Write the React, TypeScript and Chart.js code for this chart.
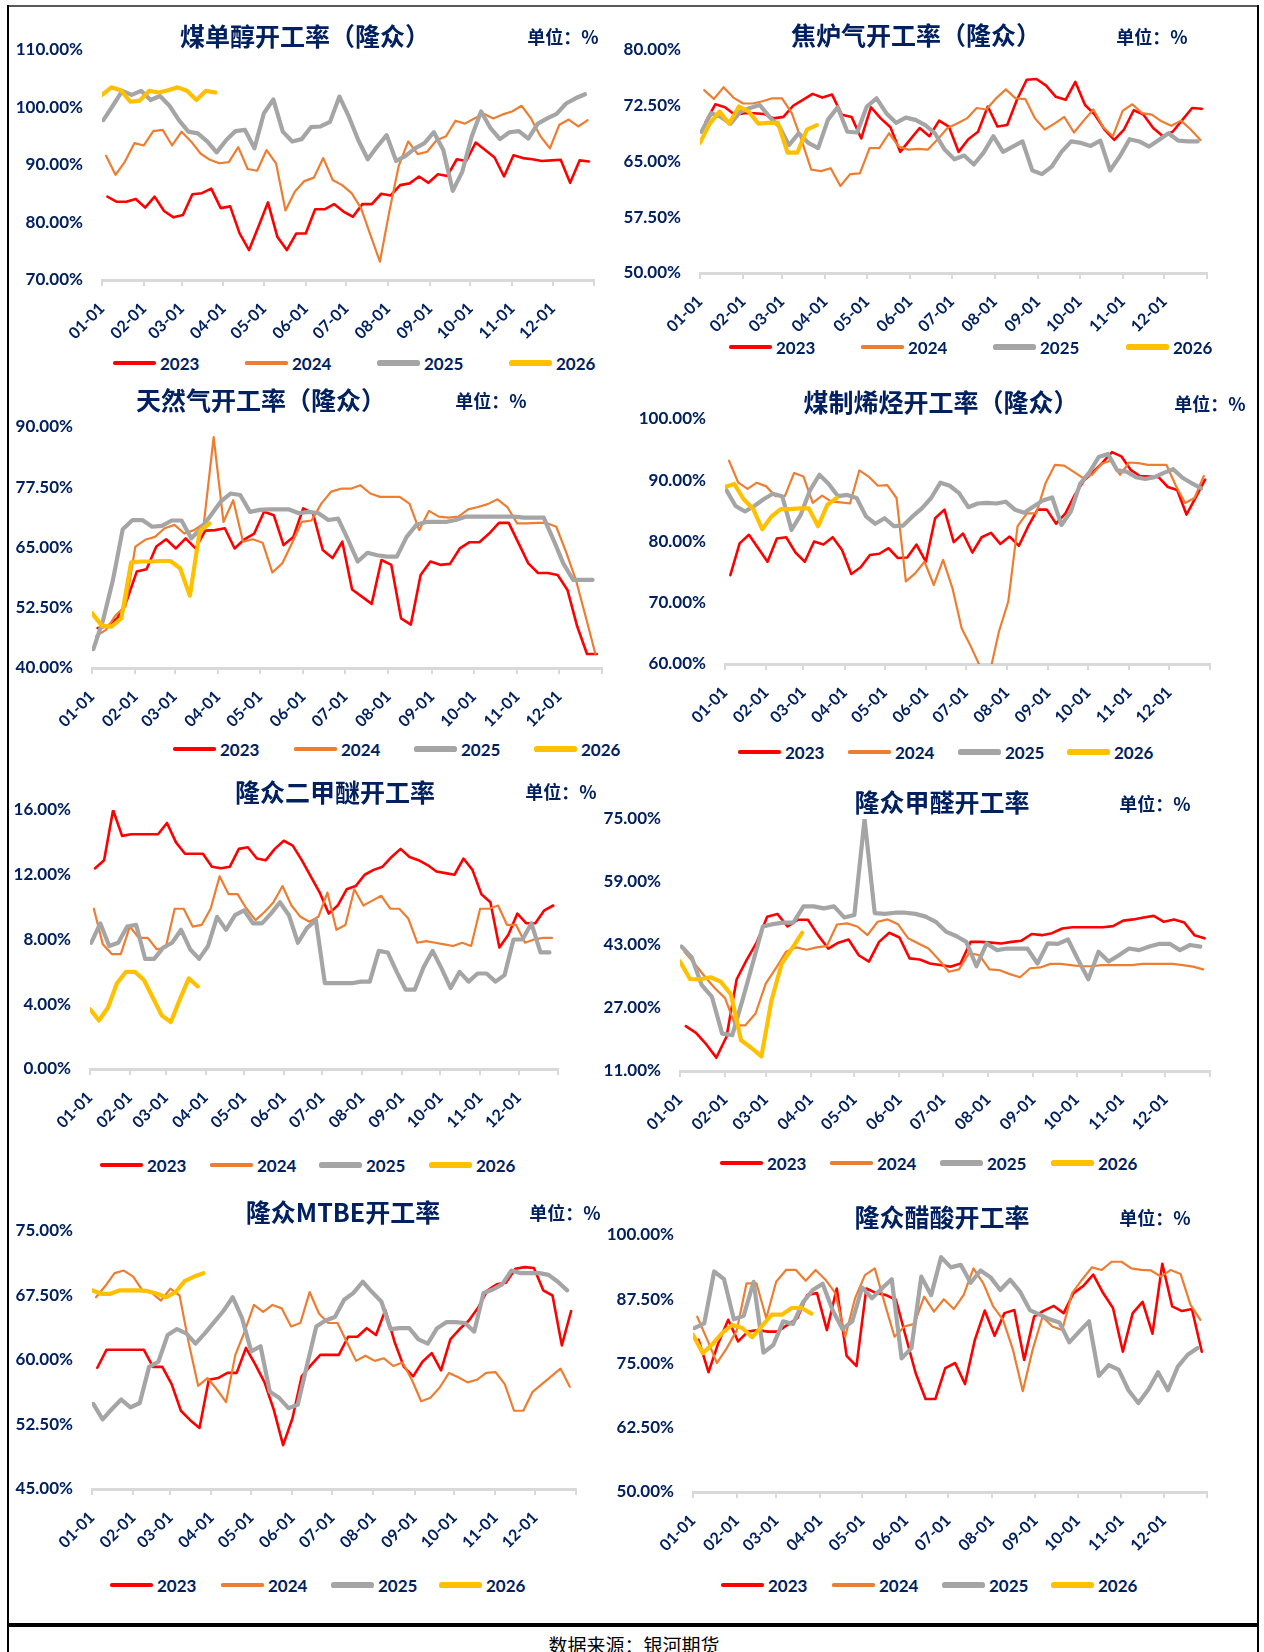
import React, { useEffect, useRef } from 'react';
import { Chart, registerables } from 'chart.js';

Chart.register(...registerables);

const NAVY = '#002060';
const AXIS_GRAY = '#D9D9D9';
const NUM_FONT = 'Lato, "Liberation Sans", sans-serif';
const CJK_FONT = '"Noto Sans CJK SC", "Noto Sans", sans-serif';

const YEARS = ['2023', '2024', '2025', '2026'];
const YEAR_COLORS = ['#FF0000', '#ED7D31', '#A5A5A5', '#FFC000'];
const YEAR_WIDTHS = [2.6, 2.2, 4.2, 4.2];
const YEAR_DAY_OFFSETS = [4, 3, 1, 0];
const WEEK_DAYS = 7;
const MONTH_TICK_DAYS = [0, 31, 59, 90, 120, 151, 181, 212, 243, 273, 304, 334, 365];
const MONTH_TICK_LABELS = ['01-01', '02-01', '03-01', '04-01', '05-01', '06-01', '07-01', '08-01', '09-01', '10-01', '11-01', '12-01', ''];

// 煤单醇开工率（隆众）
const methanol2023 = [84.5, 83.6, 83.6, 84.1, 82.6, 84.5, 82.0, 80.9, 81.3, 84.9, 85.1, 85.9, 82.5, 82.8, 78.1, 75.2, 79.3, 83.5, 77.5, 75.2, 78.1, 78.1, 82.3, 82.3, 83.2, 81.9, 81.0, 83.2, 83.2, 85.0, 84.7, 86.5, 86.8, 88.0, 86.9, 88.4, 88.1, 91.0, 90.7, 93.9, 92.6, 91.3, 88.0, 91.7, 91.2, 91.0, 90.7, 90.8, 90.9, 86.9, 90.8, 90.6];
const methanol2024 = [91.6, 88.3, 90.6, 93.8, 93.4, 95.9, 96.1, 93.4, 95.8, 94.1, 92.0, 90.9, 90.3, 90.5, 93.1, 89.3, 89.0, 92.6, 90.3, 82.1, 85.4, 87.2, 87.8, 91.2, 87.4, 86.5, 85.1, 82.5, 77.8, 73.2, 81.9, 89.9, 94.1, 91.9, 92.3, 94.3, 95.0, 97.7, 97.2, 98.1, 98.9, 98.1, 98.8, 99.3, 100.3, 98.1, 95.0, 92.9, 97.0, 97.9, 96.7, 97.8];
const methanol2025 = [97.8, 100.3, 102.9, 102.2, 102.9, 101.3, 102.0, 100.3, 97.8, 95.8, 95.5, 94.1, 92.2, 94.3, 95.9, 96.1, 92.9, 99.0, 101.4, 95.8, 94.1, 94.5, 96.6, 96.7, 97.5, 101.9, 98.4, 94.3, 91.0, 93.2, 95.2, 90.7, 91.6, 92.9, 93.8, 95.7, 92.6, 85.5, 88.8, 94.9, 99.3, 96.4, 94.5, 95.7, 95.9, 94.6, 97.2, 98.1, 98.9, 100.7, 101.6, 102.3];
const methanol2026 = [102.2, 103.5, 103.0, 101.0, 101.2, 102.9, 102.6, 103.0, 103.5, 102.9, 101.3, 102.9, 102.6];

// 焦炉气开工率（隆众）
const cokeGas2023 = [70.3, 72.7, 72.3, 71.3, 71.5, 71.5, 71.4, 70.8, 71.0, 72.5, 73.3, 74.1, 73.6, 74.0, 71.3, 71.0, 68.1, 72.3, 70.8, 69.6, 66.3, 67.9, 69.5, 68.4, 70.5, 69.7, 66.3, 68.0, 69.0, 72.4, 69.7, 69.9, 73.3, 76.0, 76.1, 75.2, 73.7, 73.3, 75.7, 72.6, 71.3, 69.3, 67.9, 69.3, 71.9, 71.3, 69.5, 68.4, 69.0, 70.6, 72.2, 72.1];
const cokeGas2024 = [74.6, 73.4, 75.0, 73.6, 72.8, 72.8, 73.1, 73.5, 73.5, 71.5, 67.9, 63.9, 63.7, 64.1, 61.7, 63.3, 63.4, 66.8, 66.8, 68.8, 67.0, 66.6, 66.7, 66.6, 68.0, 69.5, 70.1, 70.8, 72.2, 72.0, 73.5, 74.7, 73.5, 73.4, 70.8, 69.3, 70.1, 71.0, 68.9, 70.5, 72.0, 69.6, 68.4, 71.8, 72.7, 71.5, 71.3, 70.4, 69.8, 70.5, 69.3, 67.9];
const cokeGas2025 = [69.0, 71.5, 71.0, 70.1, 71.7, 72.2, 72.6, 71.0, 69.7, 67.2, 68.8, 67.5, 66.8, 70.6, 72.3, 69.0, 68.9, 72.4, 73.5, 71.5, 70.2, 70.9, 70.6, 69.9, 68.8, 66.6, 65.3, 65.8, 64.6, 66.2, 68.4, 66.3, 67.0, 67.7, 63.8, 63.3, 64.3, 66.3, 67.7, 67.5, 67.1, 67.8, 63.8, 65.7, 68.0, 67.7, 67.0, 67.9, 68.8, 67.8, 67.7, 67.7];
const cokeGas2026 = [67.5, 70.1, 71.7, 70.1, 72.4, 71.7, 70.1, 70.2, 70.2, 66.2, 66.2, 69.3, 69.9];

// 天然气开工率（隆众）
const natGas2023 = [48.3, 48.6, 50.3, 54.1, 60.0, 60.5, 65.2, 66.7, 64.8, 66.9, 64.8, 68.5, 68.6, 69.0, 64.8, 66.7, 67.9, 72.4, 71.7, 65.5, 67.2, 73.1, 72.1, 64.5, 62.8, 66.2, 56.3, 54.8, 53.3, 62.4, 61.4, 50.3, 49.0, 59.3, 62.1, 61.4, 61.6, 64.8, 66.1, 66.1, 67.9, 70.1, 70.1, 65.9, 61.7, 59.7, 59.7, 59.3, 56.2, 48.6, 42.9, 42.9];
const natGas2024 = [46.6, 47.9, 51.0, 52.8, 65.2, 66.6, 67.2, 69.0, 69.7, 67.9, 68.6, 70.0, 87.9, 70.3, 74.8, 66.2, 66.7, 66.0, 59.8, 61.7, 65.9, 70.3, 70.6, 74.1, 76.6, 77.2, 77.2, 77.9, 76.2, 75.5, 75.5, 75.5, 74.1, 68.6, 72.6, 71.4, 71.2, 71.4, 72.9, 73.4, 74.0, 75.0, 73.4, 70.0, 70.0, 70.1, 70.1, 69.3, 64.1, 58.3, 50.7, 42.9];
const natGas2025 = [43.9, 50.0, 58.3, 68.8, 70.7, 70.7, 69.3, 69.5, 70.6, 70.6, 66.9, 69.0, 71.7, 74.5, 76.2, 75.9, 72.4, 72.8, 72.9, 72.9, 72.9, 72.1, 72.4, 72.1, 70.7, 71.0, 66.7, 62.1, 63.9, 63.4, 63.1, 63.1, 67.2, 69.7, 70.3, 70.3, 70.3, 70.7, 71.4, 71.4, 71.4, 71.4, 71.4, 71.4, 71.2, 71.2, 71.2, 66.6, 61.7, 58.3, 58.3, 58.3];
const natGas2026 = [51.4, 48.8, 48.6, 50.3, 61.9, 62.1, 62.1, 62.2, 62.2, 60.7, 55.0, 68.3, 70.0];

// 煤制烯烃开工率（隆众）
const olefin2023 = [74.5, 79.7, 81.1, 78.9, 76.7, 80.5, 80.7, 78.2, 76.7, 80.0, 79.5, 80.7, 78.6, 74.7, 75.8, 77.8, 78.0, 78.9, 77.3, 77.4, 79.5, 76.7, 83.8, 85.2, 79.9, 81.3, 78.2, 80.7, 81.4, 79.6, 80.8, 79.3, 82.5, 85.2, 85.2, 82.9, 84.6, 87.6, 90.0, 91.4, 92.9, 94.6, 93.9, 91.7, 90.7, 90.6, 90.5, 88.9, 88.4, 84.4, 87.2, 90.1];
const olefin2024 = [93.2, 89.6, 88.6, 89.6, 89.0, 87.4, 87.4, 91.2, 90.6, 86.3, 87.5, 86.5, 86.4, 86.2, 91.6, 90.6, 89.1, 89.2, 87.1, 73.5, 74.8, 76.7, 72.9, 77.0, 72.4, 65.8, 62.8, 59.5, 58.5, 65.3, 70.2, 82.5, 84.6, 84.6, 89.5, 92.5, 92.4, 91.4, 90.4, 90.9, 92.7, 93.2, 90.9, 92.9, 92.8, 92.5, 92.5, 92.5, 89.1, 86.3, 87.1, 90.7];
const olefin2025 = [88.4, 85.8, 84.9, 85.8, 86.9, 87.8, 87.4, 81.9, 84.4, 88.4, 90.9, 89.4, 87.4, 87.6, 87.1, 84.1, 82.9, 83.8, 82.5, 82.6, 84.1, 85.4, 87.1, 89.6, 89.1, 87.9, 85.6, 86.2, 86.3, 86.2, 86.5, 85.2, 84.7, 85.7, 86.7, 87.2, 82.7, 84.9, 89.4, 91.3, 93.8, 94.3, 91.6, 91.4, 90.5, 90.2, 90.5, 91.2, 91.8, 90.4, 89.5, 88.7];
const olefin2026 = [88.9, 89.4, 86.9, 85.4, 82.0, 84.1, 85.3, 85.3, 85.4, 85.4, 82.5, 86.0, 87.1];

// 隆众二甲醚开工率
const dme2023 = [12.4, 12.9, 16.0, 14.4, 14.5, 14.5, 14.5, 14.5, 15.2, 14.0, 13.3, 13.3, 13.3, 12.5, 12.4, 12.5, 13.6, 13.7, 13.0, 12.9, 13.6, 14.1, 13.8, 12.9, 11.9, 10.9, 9.6, 10.1, 11.1, 11.3, 12.0, 12.3, 12.5, 13.1, 13.6, 13.1, 12.9, 12.6, 12.2, 12.1, 12.0, 13.0, 12.3, 10.8, 10.3, 7.5, 8.3, 9.6, 9.0, 9.0, 9.8, 10.1];
const dme2024 = [9.9, 7.7, 7.1, 7.1, 8.8, 8.1, 8.1, 7.4, 7.5, 9.9, 9.9, 8.8, 8.9, 9.9, 11.9, 10.8, 10.8, 9.9, 9.2, 9.7, 10.3, 11.3, 10.1, 9.4, 9.1, 9.4, 10.9, 8.6, 8.9, 11.1, 10.1, 10.4, 10.7, 9.9, 9.9, 9.3, 7.8, 7.9, 7.8, 7.7, 7.6, 7.8, 7.6, 9.9, 9.9, 10.1, 8.9, 8.9, 7.8, 8.0, 8.1, 8.1];
const dme2025 = [7.8, 9.0, 7.6, 7.8, 8.8, 8.9, 6.8, 6.8, 7.5, 7.8, 8.6, 7.4, 6.8, 7.6, 9.4, 8.6, 9.5, 9.8, 9.0, 9.0, 9.6, 10.3, 9.5, 7.8, 8.7, 9.2, 5.3, 5.3, 5.3, 5.3, 5.4, 5.4, 7.3, 7.2, 6.0, 4.9, 4.9, 6.3, 7.3, 6.2, 5.0, 6.0, 5.4, 5.9, 5.9, 5.4, 5.8, 8.0, 8.0, 9.0, 7.2, 7.2];
const dme2026 = [3.7, 3.0, 3.8, 5.3, 6.0, 6.0, 5.5, 4.4, 3.3, 2.9, 4.3, 5.6, 5.1];

// 隆众甲醛开工率
const formal2023 = [22.4, 20.7, 17.8, 14.4, 19.7, 34.3, 39.3, 43.8, 50.2, 50.9, 47.7, 49.4, 49.4, 45.5, 42.1, 43.6, 44.4, 40.4, 38.8, 43.8, 46.1, 44.9, 39.6, 39.3, 38.3, 37.9, 37.5, 38.3, 43.8, 43.8, 43.6, 43.4, 43.8, 44.1, 45.8, 45.5, 46.0, 47.2, 47.5, 47.5, 47.5, 47.5, 47.8, 49.2, 49.5, 50.0, 50.4, 48.9, 49.5, 48.7, 45.5, 44.7];
const formal2024 = [41.3, 38.3, 35.0, 32.0, 29.5, 22.6, 22.6, 25.6, 33.2, 37.1, 41.3, 42.4, 41.8, 42.4, 42.7, 48.2, 48.5, 47.7, 45.5, 48.9, 49.5, 48.3, 44.7, 43.4, 42.1, 39.3, 36.2, 36.8, 41.0, 40.4, 36.8, 36.6, 35.6, 34.8, 37.1, 37.3, 38.2, 38.2, 37.9, 37.6, 37.6, 37.9, 37.9, 37.9, 37.9, 38.2, 38.2, 38.2, 38.2, 37.9, 37.5, 36.8];
const formal2025 = [42.6, 39.9, 32.8, 29.8, 20.5, 20.1, 29.0, 38.3, 47.7, 48.3, 48.7, 48.7, 52.8, 52.8, 52.3, 52.8, 50.0, 50.6, 75.0, 51.1, 50.9, 51.2, 51.2, 50.9, 50.2, 48.9, 46.4, 45.3, 43.8, 37.6, 43.4, 41.7, 42.1, 42.1, 42.1, 38.3, 43.4, 43.3, 44.4, 39.2, 34.3, 41.3, 38.8, 40.4, 42.1, 41.7, 42.6, 43.3, 43.3, 41.7, 43.0, 42.6];
const formal2026 = [38.8, 34.3, 34.3, 34.8, 33.7, 30.5, 18.8, 16.9, 14.7, 29.0, 38.3, 42.1, 46.1];

// 隆众MTBE开工率
const mtbe2023 = [59.1, 61.2, 61.2, 61.2, 61.2, 61.2, 59.2, 59.2, 57.2, 54.1, 53.0, 52.1, 57.7, 57.9, 58.5, 58.5, 61.4, 59.5, 57.4, 54.2, 50.1, 53.2, 58.1, 59.4, 60.6, 60.6, 60.6, 62.7, 62.7, 63.7, 62.9, 65.8, 62.1, 59.2, 58.1, 59.8, 60.8, 58.8, 62.4, 63.6, 64.6, 66.1, 68.1, 68.8, 69.0, 70.6, 70.8, 70.7, 68.1, 67.5, 61.7, 65.7];
const mtbe2024 = [67.3, 68.6, 70.1, 70.4, 69.7, 68.1, 67.8, 66.9, 68.3, 67.5, 61.9, 57.0, 57.9, 56.6, 55.1, 60.6, 63.3, 66.4, 65.6, 66.4, 66.0, 63.9, 64.3, 67.9, 65.4, 64.3, 64.3, 62.1, 59.9, 60.5, 59.9, 60.2, 59.3, 59.7, 57.7, 55.2, 55.6, 56.8, 58.5, 58.0, 57.4, 57.7, 58.5, 58.6, 57.2, 54.1, 54.1, 56.3, 57.2, 58.1, 59.0, 56.9];
const mtbe2025 = [54.9, 53.1, 54.3, 55.4, 54.5, 55.0, 59.2, 59.8, 62.9, 63.6, 63.1, 61.9, 63.1, 64.4, 65.7, 67.3, 64.9, 61.0, 61.6, 56.3, 55.6, 54.4, 54.8, 59.4, 63.9, 64.6, 65.0, 67.0, 67.8, 69.1, 67.9, 66.8, 63.6, 63.7, 63.7, 62.4, 61.9, 63.7, 64.4, 64.4, 64.3, 63.3, 67.8, 68.2, 68.8, 70.4, 70.1, 70.1, 70.1, 69.9, 69.1, 68.1];
const mtbe2026 = [68.1, 67.7, 67.7, 68.1, 68.1, 68.1, 68.0, 67.7, 67.3, 67.9, 69.2, 69.7, 70.1];

// 隆众醋酸开工率
const acetic2023 = [79.6, 73.3, 79.0, 83.5, 79.3, 81.2, 81.5, 81.2, 81.2, 82.5, 83.8, 88.3, 88.7, 81.5, 89.6, 76.5, 74.5, 89.6, 88.7, 88.3, 87.4, 80.2, 73.1, 68.1, 68.1, 74.1, 75.1, 71.0, 79.6, 85.3, 80.4, 84.8, 85.4, 75.7, 84.1, 85.3, 86.2, 84.8, 88.7, 90.1, 92.3, 88.7, 85.8, 77.3, 84.8, 87.0, 80.8, 94.4, 86.1, 85.2, 85.6, 77.3];
const acetic2024 = [84.1, 79.7, 75.1, 78.0, 81.4, 90.6, 90.6, 83.8, 90.9, 93.2, 93.2, 91.1, 93.2, 91.3, 88.7, 80.2, 87.7, 92.2, 93.5, 86.7, 80.2, 82.2, 82.7, 88.0, 85.1, 87.5, 85.6, 88.3, 93.5, 90.6, 86.1, 83.5, 77.7, 69.6, 77.7, 84.1, 82.2, 81.5, 88.7, 91.3, 93.7, 93.2, 94.8, 94.8, 93.5, 93.2, 93.1, 91.9, 93.2, 92.4, 86.4, 83.5];
const acetic2025 = [81.9, 82.8, 92.9, 91.4, 83.6, 84.3, 90.9, 77.1, 78.6, 83.2, 82.7, 86.9, 89.3, 90.5, 85.4, 81.7, 83.2, 89.8, 87.7, 89.6, 91.4, 76.0, 78.0, 91.9, 88.3, 95.7, 93.7, 94.2, 90.7, 93.1, 91.8, 89.3, 91.3, 89.0, 85.4, 84.5, 83.6, 83.0, 79.1, 81.2, 83.2, 72.6, 74.7, 73.8, 69.8, 67.3, 69.9, 73.3, 69.8, 74.4, 76.7, 78.0];
const acetic2026 = [80.6, 77.0, 78.8, 81.0, 82.5, 81.9, 80.1, 82.3, 84.5, 84.5, 85.8, 85.8, 84.7];

type PanelCfg = {
  title: string;
  titleSize: number;
  titleX: number;
  titleY: number;
  unitX: number;
  unitY: number;
  yMin: number;
  yMax: number;
  yStep: number;
  plot: [number, number, number, number];
  legendY: number;
  legendX: number[];
  series: number[][];
};

const PANELS: PanelCfg[] = [
  { title: '煤单醇开工率（隆众）', titleSize: 25, titleX: 305, titleY: 35, unitX: 563, unitY: 36, yMin: 70, yMax: 110, yStep: 10, plot: [102, 611, 50, 280], legendY: 363, legendX: [113, 245, 377, 509], series: [methanol2023, methanol2024, methanol2025, methanol2026] },
  { title: '焦炉气开工率（隆众）', titleSize: 25, titleX: 916, titleY: 34, unitX: 1152, unitY: 36, yMin: 50, yMax: 80, yStep: 7.5, plot: [700, 1224, 50, 273], legendY: 347, legendX: [729, 861, 993, 1126], series: [cokeGas2023, cokeGas2024, cokeGas2025, cokeGas2026] },
  { title: '天然气开工率（隆众）', titleSize: 25, titleX: 261, titleY: 399, unitX: 491, unitY: 400, yMin: 40, yMax: 90, yStep: 12.5, plot: [92, 619, 427, 668], legendY: 749, legendX: [173, 294, 414, 534], series: [natGas2023, natGas2024, natGas2025, natGas2026] },
  { title: '煤制烯烃开工率（隆众）', titleSize: 25, titleX: 941, titleY: 401, unitX: 1210, unitY: 403, yMin: 60, yMax: 100, yStep: 10, plot: [725, 1227, 419, 664], legendY: 752, legendX: [738, 848, 958, 1067], series: [olefin2023, olefin2024, olefin2025, olefin2026] },
  { title: '隆众二甲醚开工率', titleSize: 25, titleX: 335, titleY: 791, unitX: 561, unitY: 791, yMin: 0, yMax: 16, yStep: 4, plot: [90, 575, 810, 1069], legendY: 1165, legendX: [100, 210, 319, 429], series: [dme2023, dme2024, dme2025, dme2026] },
  { title: '隆众甲醛开工率', titleSize: 25, titleX: 942, titleY: 801, unitX: 1155, unitY: 803, yMin: 11, yMax: 75, yStep: 16, plot: [680, 1227, 819, 1071], legendY: 1163, legendX: [720, 830, 940, 1051], series: [formal2023, formal2024, formal2025, formal2026] },
  { title: '隆众MTBE开工率', titleSize: 25, titleX: 343, titleY: 1211, unitX: 565, unitY: 1212, yMin: 45, yMax: 75, yStep: 7.5, plot: [92, 593, 1231, 1489], legendY: 1585, legendX: [110, 221, 331, 439], series: [mtbe2023, mtbe2024, mtbe2025, mtbe2026] },
  { title: '隆众醋酸开工率', titleSize: 25, titleX: 942, titleY: 1216, unitX: 1155, unitY: 1217, yMin: 50, yMax: 100, yStep: 12.5, plot: [693, 1224, 1235, 1492], legendY: 1585, legendX: [721, 832, 942, 1051], series: [acetic2023, acetic2024, acetic2025, acetic2026] },
];

const Y_AXIS_W = 95;
const Y_LABEL_GAP = 19;
const PAD_TOP = 32;
const PAD_RIGHT = 10;
const X_AXIS_H = 70;

function Panel({ cfg }: { cfg: PanelCfg }) {
  const ref = useRef<HTMLCanvasElement | null>(null);
  const [l, r, t, b] = cfg.plot;
  const cLeft = l - Y_AXIS_W;
  const cTop = t - PAD_TOP;
  const cW = r - l + Y_AXIS_W + PAD_RIGHT;
  const cH = b - t + PAD_TOP + X_AXIS_H;

  useEffect(() => {
    const canvas = ref.current;
    if (!canvas) return;
    const yTicks: number[] = [];
    for (let v = cfg.yMin; v <= cfg.yMax + 1e-9; v += cfg.yStep) yTicks.push(v);
    const chart = new Chart(canvas, {
      type: 'line',
      data: {
        datasets: cfg.series.map((vals, k) => ({
          label: YEARS[k],
          data: vals.map((v, i) => ({ x: YEAR_DAY_OFFSETS[k] + WEEK_DAYS * i, y: v })),
          borderColor: YEAR_COLORS[k],
          backgroundColor: YEAR_COLORS[k],
          borderWidth: YEAR_WIDTHS[k],
          pointRadius: 0,
          pointHoverRadius: 0,
          tension: 0,
          fill: false,
          order: 4 - k,
          borderJoinStyle: 'round' as const,
          borderCapStyle: 'round' as const,
        })),
      },
      options: {
        animation: false,
        responsive: false,
        maintainAspectRatio: false,
        devicePixelRatio: 1,
        events: [],
        layout: { padding: { top: PAD_TOP, right: PAD_RIGHT, left: 0, bottom: 0 } },
        plugins: { legend: { display: false }, tooltip: { enabled: false }, title: { display: false } },
        scales: {
          x: {
            type: 'linear',
            min: 0,
            max: 365,
            afterBuildTicks: (s: any) => {
              s.ticks = MONTH_TICK_DAYS.map((v) => ({ value: v }));
            },
            afterFit: (s: any) => {
              s.height = X_AXIS_H;
            },
            ticks: {
              autoSkip: false,
              minRotation: 45,
              maxRotation: 45,
              padding: 13,
              color: NAVY,
              font: { family: NUM_FONT, size: 16, weight: 'bold' },
              callback: (_v: any, i: number) => MONTH_TICK_LABELS[i] ?? '',
            },
            grid: { display: true, drawOnChartArea: false, drawTicks: true, tickLength: 6, color: AXIS_GRAY, lineWidth: 2 },
            border: { display: true, color: AXIS_GRAY, width: 3 },
          },
          y: {
            type: 'linear',
            min: cfg.yMin,
            max: cfg.yMax,
            afterBuildTicks: (s: any) => {
              s.ticks = yTicks.map((v) => ({ value: v }));
            },
            afterFit: (s: any) => {
              s.width = Y_AXIS_W;
            },
            ticks: {
              padding: Y_LABEL_GAP,
              color: NAVY,
              font: { family: NUM_FONT, size: 17, weight: 'bold' },
              callback: (v: any) => Number(v).toFixed(2) + '%',
            },
            grid: { display: false, drawTicks: false },
            border: { display: false },
          },
        },
      },
    } as any);
    return () => chart.destroy();
  }, [cfg]);

  return (
    <>
      <canvas
        ref={ref}
        width={cW}
        height={cH}
        style={{ position: 'absolute', left: cLeft, top: cTop, width: cW, height: cH }}
      />
      <div
        style={{
          position: 'absolute', left: cfg.titleX, top: cfg.titleY, transform: 'translate(-50%, -50%)',
          whiteSpace: 'nowrap', fontFamily: CJK_FONT, fontWeight: 700, fontSize: cfg.titleSize,
          color: NAVY, lineHeight: 1,
        }}
      >
        {cfg.title}
      </div>
      <div
        style={{
          position: 'absolute', left: cfg.unitX, top: cfg.unitY, transform: 'translate(-50%, -50%)',
          whiteSpace: 'nowrap', fontFamily: CJK_FONT, fontWeight: 700, fontSize: 18,
          color: NAVY, lineHeight: 1,
        }}
      >
        单位：%
      </div>
      {YEARS.map((yr, k) => (
        <React.Fragment key={yr}>
          <div
            style={{
              position: 'absolute', left: cfg.legendX[k], top: cfg.legendY - YEAR_WIDTHS[k] / 2 - 0.5,
              width: 43, height: YEAR_WIDTHS[k] + 1, borderRadius: (YEAR_WIDTHS[k] + 1) / 2,
              background: YEAR_COLORS[k],
            }}
          />
          <div
            style={{
              position: 'absolute', left: cfg.legendX[k] + 47, top: cfg.legendY, transform: 'translateY(-50%)',
              fontFamily: NUM_FONT, fontWeight: 700, fontSize: 17, color: NAVY, lineHeight: 1, whiteSpace: 'nowrap',
            }}
          >
            {yr}
          </div>
        </React.Fragment>
      ))}
    </>
  );
}

export default function App() {
  return (
    <div style={{ position: 'absolute', left: 0, top: 0, width: 1264, height: 1652, overflow: 'hidden', background: '#fff' }}>
      <div style={{ position: 'absolute', left: 7, top: 5, width: 1252, height: 2, background: '#595959' }} />
      <div style={{ position: 'absolute', left: 7, top: 5, width: 2, height: 1647, background: '#000' }} />
      <div style={{ position: 'absolute', left: 1257, top: 5, width: 2, height: 1647, background: '#000' }} />
      <div style={{ position: 'absolute', left: 7, top: 1623, width: 1252, height: 4, background: '#000' }} />
      {PANELS.map((p, i) => (
        <Panel key={i} cfg={p} />
      ))}
      <div
        style={{
          position: 'absolute', left: 634, top: 1644, transform: 'translate(-50%, -50%)', whiteSpace: 'nowrap',
          fontFamily: CJK_FONT, fontSize: 19, color: '#000', lineHeight: 1,
        }}
      >
        数据来源：银河期货
      </div>
    </div>
  );
}
